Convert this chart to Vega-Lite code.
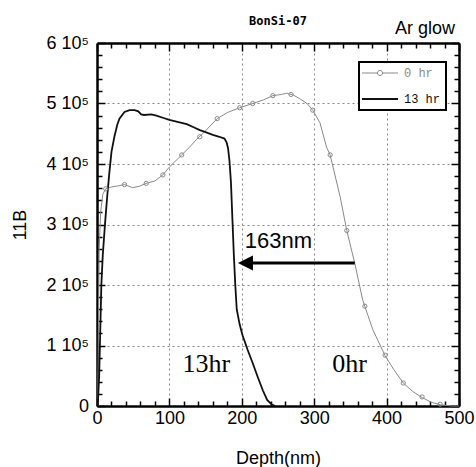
{
  "$schema": "https://vega.github.io/schema/vega-lite/v6.json",
  "width": 362,
  "height": 363,
  "autosize": {"type": "none"},
  "padding": {"left": 97, "top": 43, "right": 17, "bottom": 61},
  "background": "white",
  "config": {"view": {"stroke": null}},
  "datasets": {
    "curves": [
      {"depth": 1, "counts": 0, "series": "0 hr"},
      {"depth": 3, "counts": 260000, "series": "0 hr"},
      {"depth": 5, "counts": 320000, "series": "0 hr"},
      {"depth": 8, "counts": 350000, "series": "0 hr"},
      {"depth": 12, "counts": 359000, "series": "0 hr"},
      {"depth": 20, "counts": 362000, "series": "0 hr"},
      {"depth": 30, "counts": 364000, "series": "0 hr"},
      {"depth": 38, "counts": 366000, "series": "0 hr"},
      {"depth": 49, "counts": 361000, "series": "0 hr"},
      {"depth": 58, "counts": 363000, "series": "0 hr"},
      {"depth": 68, "counts": 368000, "series": "0 hr"},
      {"depth": 80, "counts": 372000, "series": "0 hr"},
      {"depth": 91, "counts": 382000, "series": "0 hr"},
      {"depth": 100, "counts": 395000, "series": "0 hr"},
      {"depth": 117, "counts": 415000, "series": "0 hr"},
      {"depth": 128, "counts": 428000, "series": "0 hr"},
      {"depth": 137, "counts": 440000, "series": "0 hr"},
      {"depth": 150, "counts": 455000, "series": "0 hr"},
      {"depth": 166, "counts": 475000, "series": "0 hr"},
      {"depth": 180, "counts": 485000, "series": "0 hr"},
      {"depth": 197, "counts": 493000, "series": "0 hr"},
      {"depth": 215, "counts": 500000, "series": "0 hr"},
      {"depth": 230, "counts": 506000, "series": "0 hr"},
      {"depth": 243, "counts": 513000, "series": "0 hr"},
      {"depth": 255, "counts": 515000, "series": "0 hr"},
      {"depth": 262, "counts": 517000, "series": "0 hr"},
      {"depth": 271, "counts": 514000, "series": "0 hr"},
      {"depth": 280, "counts": 508000, "series": "0 hr"},
      {"depth": 290, "counts": 500000, "series": "0 hr"},
      {"depth": 298, "counts": 489000, "series": "0 hr"},
      {"depth": 308, "counts": 468000, "series": "0 hr"},
      {"depth": 317, "counts": 428000, "series": "0 hr"},
      {"depth": 322, "counts": 415000, "series": "0 hr"},
      {"depth": 336, "counts": 345000, "series": "0 hr"},
      {"depth": 345, "counts": 290000, "series": "0 hr"},
      {"depth": 356, "counts": 236000, "series": "0 hr"},
      {"depth": 367, "counts": 175000, "series": "0 hr"},
      {"depth": 381, "counts": 126000, "series": "0 hr"},
      {"depth": 398, "counts": 83000, "series": "0 hr"},
      {"depth": 410, "counts": 60000, "series": "0 hr"},
      {"depth": 423, "counts": 38000, "series": "0 hr"},
      {"depth": 436, "counts": 24000, "series": "0 hr"},
      {"depth": 449, "counts": 14000, "series": "0 hr"},
      {"depth": 462, "counts": 6000, "series": "0 hr"},
      {"depth": 474, "counts": 2000, "series": "0 hr"},
      {"depth": 490, "counts": 0, "series": "0 hr"},
      {"depth": 500, "counts": 0, "series": "0 hr"},
      {"depth": 1, "counts": 0, "series": "13 hr"},
      {"depth": 3, "counts": 50000, "series": "13 hr"},
      {"depth": 6, "counts": 200000, "series": "13 hr"},
      {"depth": 8, "counts": 250000, "series": "13 hr"},
      {"depth": 11, "counts": 300000, "series": "13 hr"},
      {"depth": 14, "counts": 345000, "series": "13 hr"},
      {"depth": 17, "counts": 385000, "series": "13 hr"},
      {"depth": 20, "counts": 420000, "series": "13 hr"},
      {"depth": 24, "counts": 445000, "series": "13 hr"},
      {"depth": 28, "counts": 465000, "series": "13 hr"},
      {"depth": 31, "counts": 475000, "series": "13 hr"},
      {"depth": 38, "counts": 486000, "series": "13 hr"},
      {"depth": 45, "counts": 489000, "series": "13 hr"},
      {"depth": 52, "counts": 489000, "series": "13 hr"},
      {"depth": 57, "counts": 487000, "series": "13 hr"},
      {"depth": 61, "counts": 482000, "series": "13 hr"},
      {"depth": 65, "counts": 481000, "series": "13 hr"},
      {"depth": 75, "counts": 482000, "series": "13 hr"},
      {"depth": 82, "counts": 480000, "series": "13 hr"},
      {"depth": 92, "counts": 476000, "series": "13 hr"},
      {"depth": 100, "counts": 473000, "series": "13 hr"},
      {"depth": 114, "counts": 469000, "series": "13 hr"},
      {"depth": 124, "counts": 466000, "series": "13 hr"},
      {"depth": 135, "counts": 460000, "series": "13 hr"},
      {"depth": 142, "counts": 456000, "series": "13 hr"},
      {"depth": 149, "counts": 453000, "series": "13 hr"},
      {"depth": 160, "counts": 448000, "series": "13 hr"},
      {"depth": 169, "counts": 445000, "series": "13 hr"},
      {"depth": 176, "counts": 442000, "series": "13 hr"},
      {"depth": 179, "counts": 436000, "series": "13 hr"},
      {"depth": 181, "counts": 426000, "series": "13 hr"},
      {"depth": 183, "counts": 405000, "series": "13 hr"},
      {"depth": 185, "counts": 370000, "series": "13 hr"},
      {"depth": 187, "counts": 310000, "series": "13 hr"},
      {"depth": 189, "counts": 250000, "series": "13 hr"},
      {"depth": 191, "counts": 200000, "series": "13 hr"},
      {"depth": 193, "counts": 160000, "series": "13 hr"},
      {"depth": 197, "counts": 135000, "series": "13 hr"},
      {"depth": 201, "counts": 117000, "series": "13 hr"},
      {"depth": 208, "counts": 93000, "series": "13 hr"},
      {"depth": 215, "counts": 71000, "series": "13 hr"},
      {"depth": 222, "counts": 48000, "series": "13 hr"},
      {"depth": 229, "counts": 26000, "series": "13 hr"},
      {"depth": 235, "counts": 10000, "series": "13 hr"},
      {"depth": 241, "counts": 3000, "series": "13 hr"},
      {"depth": 246, "counts": 0, "series": "13 hr"}
    ],
    "markers": [
      {"depth": 12, "counts": 359000},
      {"depth": 38, "counts": 366000},
      {"depth": 68, "counts": 368000},
      {"depth": 91, "counts": 382000},
      {"depth": 117, "counts": 415000},
      {"depth": 142, "counts": 445000},
      {"depth": 166, "counts": 475000},
      {"depth": 197, "counts": 493000},
      {"depth": 215, "counts": 500000},
      {"depth": 243, "counts": 513000},
      {"depth": 268, "counts": 515000},
      {"depth": 298, "counts": 489000},
      {"depth": 322, "counts": 415000},
      {"depth": 345, "counts": 290000},
      {"depth": 370, "counts": 165000},
      {"depth": 398, "counts": 84000},
      {"depth": 423, "counts": 38000},
      {"depth": 449, "counts": 15000},
      {"depth": 474, "counts": 3000}
    ],
    "notes": [
      {"depth": 204, "counts": 261000, "label": "163nm", "kind": "sans"},
      {"depth": 151, "counts": 56000, "label": "13hr", "kind": "serif"},
      {"depth": 349, "counts": 56000, "label": "0hr", "kind": "serif"}
    ],
    "arrow": [{"from": 356, "to": 213, "counts": 236400}],
    "head": [{"depth": 205, "counts": 236400}],
    "corner": [{"depth": 500, "counts": 615000, "label": "Ar glow"}],
    "heading": [{"depth": 250, "counts": 630000, "label": "BonSi-07"}]
  },
  "resolve": {"axis": {"x": "independent", "y": "independent"}},
  "layer": [
    {
      "data": {"name": "curves"},
      "mark": {"type": "line", "interpolate": "linear"},
      "encoding": {
        "x": {"field": "depth", "type": "quantitative", "scale": {"domain": [0, 500], "nice": false},
          "axis": {"orient": "bottom", "values": [0, 100, 200, 300, 400, 500], "tickSize": -8, "tickColor": "black", "tickWidth": 1.5,
            "labelPadding": 11, "labelFontSize": 18, "labelFont": "Liberation Sans", "labelColor": "black", "labelFlush": false,
            "grid": true, "gridDash": [2, 3], "gridColor": "#888", "gridWidth": 1, "domainColor": "black", "domainWidth": 2.5,
            "title": "Depth(nm)", "titleFont": "Liberation Sans", "titleFontSize": 18, "titleFontWeight": "normal", "titleColor": "black",
            "titleX": 181, "titleY": 43, "titleBaseline": "top", "titleAlign": "center"}},
        "y": {"field": "counts", "type": "quantitative", "scale": {"domain": [0, 600000], "nice": false},
          "axis": {"orient": "left", "values": [0, 100000, 200000, 300000, 400000, 500000, 600000], "tickSize": -8, "tickColor": "black", "tickWidth": 1.5,
            "labelPadding": 16.5, "labelFontSize": 18, "labelFont": "Liberation Sans", "labelColor": "black", "labelFlush": false,
            "labelExpr": "datum.value == 0 ? '0' : format(datum.value / 100000, 'd') + ' 10\u2075'",
            "grid": true, "gridDash": [2, 3], "gridColor": "#888", "gridWidth": 1, "domainColor": "black", "domainWidth": 2.5,
            "title": "11B", "titleFont": "Liberation Sans", "titleFontSize": 18, "titleFontWeight": "normal", "titleColor": "black",
            "titleX": -72, "titleY": 181.5, "titleAngle": -90, "titleBaseline": "alphabetic", "titleAlign": "center"}},
        "stroke": {"field": "series", "type": "nominal", "scale": {"domain": ["0 hr", "13 hr"], "range": ["#8a8a8a", "#111111"]},
          "legend": {"orient": "none", "legendX": 262, "legendY": 19, "title": null, "strokeColor": "black", "fillColor": "white",
            "padding": 5, "rowPadding": 14, "labelFont": "Liberation Mono", "labelFontSize": 12, "labelOffset": 18, "symbolOffset": 10, "symbolSize": 1296,
            "encode": {
              "legend": {"update": {"strokeWidth": {"value": 2}}},
              "symbols": {"update": {
                "shape": {"signal": "datum.value == '0 hr' ? 'M-1,0H-0.14M0.14,0H1M0.14,0A0.14,0.14 0 1 1 -0.14,0A0.14,0.14 0 1 1 0.14,0' : 'M-1,0H1'"},
                "strokeWidth": {"signal": "datum.value == '0 hr' ? 1 : 1.8"},
                "fill": {"value": "transparent"}}},
              "labels": {"update": {"fill": {"signal": "datum.value == '0 hr' ? '#8a8a8a' : '#111111'"}}}
            }}},
        "strokeWidth": {"condition": {"test": "datum.series == '13 hr'", "value": 1.8}, "value": 1},
        "order": {"field": "depth", "type": "quantitative"}
      }
    },
    {
      "data": {"name": "markers"},
      "mark": {"type": "point", "shape": "circle", "size": 18, "stroke": "#8a8a8a", "strokeWidth": 1, "filled": false, "opacity": 1},
      "encoding": {
        "x": {"field": "depth", "type": "quantitative", "scale": {"domain": [0, 500], "nice": false},
          "axis": {"orient": "top", "values": [0, 100, 200, 300, 400, 500], "tickSize": -8, "tickColor": "black", "tickWidth": 1.5,
            "labels": false, "grid": false, "domainColor": "black", "domainWidth": 2.5, "title": null}},
        "y": {"field": "counts", "type": "quantitative", "scale": {"domain": [0, 600000], "nice": false},
          "axis": {"orient": "right", "values": [0, 100000, 200000, 300000, 400000, 500000, 600000], "tickSize": -8, "tickColor": "black", "tickWidth": 1.5,
            "labels": false, "grid": false, "domainColor": "black", "domainWidth": 2.5, "title": null}}
      }
    },
    {
      "data": {"name": "arrow"},
      "mark": {"type": "rule", "stroke": "black", "strokeWidth": 3},
      "encoding": {
        "x": {"field": "from", "type": "quantitative", "scale": {"domain": [0, 500], "nice": false},
          "axis": {"orient": "bottom", "values": [20, 40, 60, 80, 120, 140, 160, 180, 220, 240, 260, 280, 320, 340, 360, 380, 420, 440, 460, 480],
            "tickSize": -5, "tickColor": "black", "tickWidth": 1.5, "labels": false, "grid": false, "domain": false, "title": null}},
        "x2": {"field": "to"},
        "y": {"field": "counts", "type": "quantitative", "scale": {"domain": [0, 600000], "nice": false},
          "axis": {"orient": "left", "values": [20000, 40000, 60000, 80000, 120000, 140000, 160000, 180000, 220000, 240000, 260000, 280000, 320000, 340000, 360000, 380000, 420000, 440000, 460000, 480000, 520000, 540000, 560000, 580000],
            "tickSize": -5, "tickColor": "black", "tickWidth": 1.5, "labels": false, "grid": false, "domain": false, "title": null}}
      }
    },
    {
      "data": {"name": "head"},
      "mark": {"type": "point", "shape": "M-1,0L1,-1L1,1Z", "size": 225, "filled": true, "fill": "black", "strokeWidth": 0, "opacity": 1},
      "encoding": {
        "x": {"field": "depth", "type": "quantitative", "scale": {"domain": [0, 500], "nice": false},
          "axis": {"orient": "top", "values": [20, 40, 60, 80, 120, 140, 160, 180, 220, 240, 260, 280, 320, 340, 360, 380, 420, 440, 460, 480],
            "tickSize": -5, "tickColor": "black", "tickWidth": 1.5, "labels": false, "grid": false, "domain": false, "title": null}},
        "y": {"field": "counts", "type": "quantitative", "scale": {"domain": [0, 600000], "nice": false},
          "axis": {"orient": "right", "values": [20000, 40000, 60000, 80000, 120000, 140000, 160000, 180000, 220000, 240000, 260000, 280000, 320000, 340000, 360000, 380000, 420000, 440000, 460000, 480000, 520000, 540000, 560000, 580000],
            "tickSize": -5, "tickColor": "black", "tickWidth": 1.5, "labels": false, "grid": false, "domain": false, "title": null}}
      }
    },
    {
      "data": {"name": "notes"},
      "transform": [{"filter": "datum.kind == 'sans'"}],
      "mark": {"type": "text", "font": "Liberation Sans", "fontSize": 22, "align": "left", "baseline": "alphabetic", "color": "black"},
      "encoding": {
        "x": {"field": "depth", "type": "quantitative", "scale": {"domain": [0, 500], "nice": false}, "axis": null},
        "y": {"field": "counts", "type": "quantitative", "scale": {"domain": [0, 600000], "nice": false}, "axis": null},
        "text": {"field": "label"}
      }
    },
    {
      "data": {"name": "notes"},
      "transform": [{"filter": "datum.kind == 'serif'"}],
      "mark": {"type": "text", "font": "Liberation Serif", "fontSize": 26, "align": "center", "baseline": "alphabetic", "color": "black"},
      "encoding": {
        "x": {"field": "depth", "type": "quantitative", "scale": {"domain": [0, 500], "nice": false}, "axis": null},
        "y": {"field": "counts", "type": "quantitative", "scale": {"domain": [0, 600000], "nice": false}, "axis": null},
        "text": {"field": "label"}
      }
    },
    {
      "data": {"name": "corner"},
      "mark": {"type": "text", "font": "Liberation Sans", "fontSize": 18, "align": "right", "baseline": "alphabetic", "dx": -4, "color": "black"},
      "encoding": {
        "x": {"field": "depth", "type": "quantitative", "scale": {"domain": [0, 500], "nice": false}, "axis": null},
        "y": {"field": "counts", "type": "quantitative", "scale": {"domain": [0, 600000], "nice": false}, "axis": null},
        "text": {"field": "label"}
      }
    },
    {
      "data": {"name": "heading"},
      "mark": {"type": "text", "font": "DejaVu Sans Mono", "fontSize": 12, "fontWeight": "bold", "align": "center", "baseline": "alphabetic", "color": "black"},
      "encoding": {
        "x": {"field": "depth", "type": "quantitative", "scale": {"domain": [0, 500], "nice": false}, "axis": null},
        "y": {"field": "counts", "type": "quantitative", "scale": {"domain": [0, 600000], "nice": false}, "axis": null},
        "text": {"field": "label"}
      }
    }
  ]
}
